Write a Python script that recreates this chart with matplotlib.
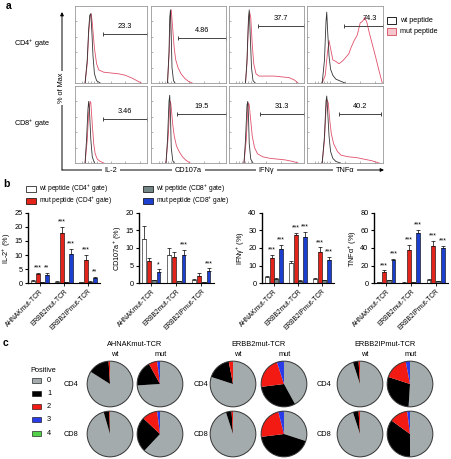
import numpy as np
import matplotlib
matplotlib.use('Agg')
import matplotlib.pyplot as plt
from matplotlib.patches import Rectangle, Circle

plt.rcParams['font.family'] = ['Liberation Sans', 'DejaVu Sans']
plt.rcParams['font.size'] = 5.2
plt.rcParams['mathtext.fontset'] = 'custom'
plt.rcParams['mathtext.rm'] = 'Liberation Sans'
plt.rcParams['mathtext.it'] = 'Liberation Sans:italic'

W, H = 452, 459

# ---- panel a: histogram traces (x = fluorescence, % of axis; y = % of max)
il2_cd4_wt = ([14, 17, 19, 20.5, 22, 23.5, 25, 27, 30, 35], [0, 30, 70, 88, 90, 65, 35, 12, 3, 0])
il2_cd4_mut = ([14, 17, 19, 21, 22.5, 24, 27, 30, 33, 40, 50, 60, 70, 80, 88, 92],
               [0, 25, 65, 86, 90, 78, 45, 25, 17, 14, 13, 12, 10, 6, 2, 0])
cd107_cd4_wt = ([22, 24, 25, 26, 27, 28, 30, 32], [0, 40, 85, 95, 60, 20, 3, 0])
cd107_cd4_mut = ([22, 24, 26, 27, 29, 31, 33, 36, 40, 45, 50, 55],
                 [0, 35, 88, 95, 70, 45, 30, 20, 12, 6, 2, 0])
ifng_cd4_wt = ([22, 24, 26, 27, 28, 30, 32, 35], [0, 30, 85, 95, 70, 20, 3, 0])
ifng_cd4_mut = ([22, 24, 26, 27.5, 29, 31, 33, 36, 40, 50, 60, 70, 80, 87, 92],
                [0, 25, 80, 92, 85, 50, 25, 12, 9, 9, 9, 8, 7, 4, 0])
tnfa_cd4_wt = ([20, 23, 25, 26, 27, 29, 31, 34, 38, 45, 50], [0, 30, 80, 92, 70, 35, 18, 10, 5, 2, 0])
tnfa_cd4_mut = ([20, 24, 27, 29, 31, 34, 38, 42, 46, 50, 55, 58, 62, 66, 70, 73, 76, 79, 82, 86, 90, 95, 99],
                [0, 10, 40, 55, 45, 30, 28, 25, 28, 32, 38, 46, 55, 62, 78, 80, 85, 78, 65, 50, 35, 15, 0])
il2_cd8_wt = ([14, 16, 18, 19, 20, 22, 24, 27], [0, 30, 70, 80, 70, 30, 8, 0])
il2_cd8_mut = ([14, 17, 19, 21, 22, 24, 26, 28, 31, 35, 40], [0, 30, 65, 80, 78, 50, 25, 12, 5, 2, 0])
cd107_cd8_wt = ([20, 22, 24, 25, 26, 27, 29, 31], [0, 30, 80, 88, 60, 20, 3, 0])
cd107_cd8_mut = ([20, 23, 25, 26, 27, 29, 31, 34, 38, 42, 46, 52],
                 [0, 35, 75, 80, 72, 50, 35, 22, 14, 8, 4, 0])
ifng_cd8_wt = ([20, 22, 24, 25, 26, 27, 29, 32], [0, 30, 75, 80, 60, 25, 5, 0])
ifng_cd8_mut = ([20, 23, 25, 26, 27, 29, 31, 34, 38, 45, 55, 65, 75, 85, 92],
                [0, 30, 70, 78, 75, 55, 35, 20, 12, 8, 6, 5, 4, 2, 0])
tnfa_cd8_wt = ([20, 23, 25, 26, 27, 29, 31, 34, 38, 44], [0, 35, 80, 87, 70, 35, 15, 6, 2, 0])
tnfa_cd8_mut = ([20, 23, 25, 26.5, 28, 30, 32, 35, 40, 45, 55, 65, 75, 85, 95],
                [0, 30, 70, 82, 78, 55, 38, 25, 15, 10, 8, 7, 5, 3, 0])

hist_wt = [[il2_cd4_wt, cd107_cd4_wt, ifng_cd4_wt, tnfa_cd4_wt],
           [il2_cd8_wt, cd107_cd8_wt, ifng_cd8_wt, tnfa_cd8_wt]]
hist_mut = [[il2_cd4_mut, cd107_cd4_mut, ifng_cd4_mut, tnfa_cd4_mut],
            [il2_cd8_mut, cd107_cd8_mut, ifng_cd8_mut, tnfa_cd8_mut]]
gate_pct = [['23.3', '4.86', '37.7', '74.3'], ['3.46', '19.5', '31.3', '40.2']]
gate_start = [[39, 36, 39, 49], [39, 35, 41, 42]]
gate_end = [[100, 100, 100, 100], [100, 100, 100, 97]]
gate_y = [[64, 58, 74, 74], [57, 64, 64, 64]]
markers = ['IL-2', 'CD107a', 'IFNγ', 'TNFα']
gates = ['CD4$^{+}$ gate', 'CD8$^{+}$ gate']

# ---- panel b: bar data (wt CD4, mut CD4, wt CD8, mut CD8) x TCR
tcr_labels = ['AHNAKmut-TCR', 'ERBB2mut-TCR', 'ERBB2IPmut-TCR']
series_labels = ['wt peptide (CD4$^{+}$ gate)', 'mut peptide (CD4$^{+}$ gate)',
                 'wt peptide (CD8$^{+}$ gate)', 'mut peptide (CD8$^{+}$ gate)']
il2_mean = [[0.8, 0.5, 0.4], [3.2, 17.8, 8.3], [0.3, 0.2, 0.5], [3.0, 10.2, 1.9]]
il2_err = [[0.2, 0.1, 0.1], [0.4, 2.2, 1.7], [0.1, 0.1, 0.2], [0.5, 2.0, 0.3]]
il2_sig = [['', '', ''], ['***', '***', '***'], ['', '', ''], ['**', '***', '**']]
cd107_mean = [[12.5, 8.0, 0.8], [6.2, 7.3, 2.0], [0.8, 0.5, 0.2], [3.2, 7.9, 3.4]]
cd107_err = [[3.8, 2.0, 0.3], [1.0, 1.6, 0.9], [0.2, 0.1, 0.1], [0.7, 1.6, 0.8]]
cd107_sig = [['', '', ''], ['', '', ''], ['', '', ''], ['*', '***', '***']]
ifng_mean = [[3.5, 11.5, 2.3], [14.5, 27.2, 18.0], [2.3, 1.2, 1.5], [19.3, 26.4, 13.2]]
ifng_err = [[0.5, 0.8, 0.4], [1.5, 1.5, 2.3], [0.5, 0.3, 0.4], [2.3, 2.8, 1.8]]
ifng_sig = [['', '', ''], ['***', '***', '***'], ['', '', ''], ['***', '***', '***']]
tnfa_mean = [[1.2, 0.5, 4.0], [13.0, 38.0, 42.5], [3.0, 1.2, 2.2], [26.0, 57.0, 39.5]]
tnfa_err = [[0.3, 0.2, 0.5], [1.5, 5.5, 5.5], [0.5, 0.3, 0.3], [2.0, 3.5, 3.0]]
tnfa_sig = [['', '', ''], ['***', '***', '***'], ['', '', ''], ['***', '***', '***']]
bar_ylabels = ['IL-2$^{+}$ (%)', 'CD107a$^{+}$ (%)', 'IFNγ$^{+}$ (%)', 'TNFα$^{+}$ (%)']
bar_ymax = [25, 20, 40, 80]
bar_ystep = [5, 5, 10, 20]

# ---- panel c: fraction of cells positive for 0..4 functions
pie_levels = ['0', '1', '2', '3', '4']
ahnak_pies = [[0.84, 0.15, 0.01, 0.0, 0.0], [0.74, 0.18, 0.06, 0.02, 0.0],
              [0.955, 0.04, 0.005, 0.0, 0.0], [0.62, 0.25, 0.11, 0.02, 0.0]]
erbb2_pies = [[0.80, 0.17, 0.03, 0.0, 0.0], [0.42, 0.31, 0.22, 0.05, 0.0],
              [0.95, 0.04, 0.01, 0.0, 0.0], [0.30, 0.43, 0.23, 0.04, 0.0]]
erbb2ip_pies = [[0.95, 0.04, 0.01, 0.0, 0.0], [0.51, 0.29, 0.17, 0.03, 0.0],
                [0.95, 0.04, 0.01, 0.0, 0.0], [0.50, 0.35, 0.13, 0.02, 0.0]]
pie_titles = ['AHNAKmut-TCR', 'ERBB2mut-TCR', 'ERBB2IPmut-TCR']

bar_colors = ['white', '#e3241b', '#748585', '#1d3fcf']
pie_colors = ['#a3abad', '#000000', '#f21a12', '#2a3ce8', '#55d04a']


def box(x0, y0, x1, y1):
    return [x0 / W, 1 - y1 / H, (x1 - x0) / W, (y1 - y0) / H]


fig = plt.figure(figsize=(W / 100, H / 100), dpi=100)
ov = fig.add_axes([0, 0, 1, 1])
ov.set_xlim(0, W)
ov.set_ylim(H, 0)
ov.axis('off')

# panel letters
for lab, (x, y) in zip('abc', [(9, 6), (6, 184), (6, 343)]):
    ov.text(x, y, lab, fontsize=7.5, fontweight='bold', ha='center', va='center')

# ---------------- panel a
cols = [(75, 147), (151, 226), (229, 304), (307, 383)]
rows = [(6, 83), (86, 163)]
for r in range(2):
    for c in range(4):
        ax = fig.add_axes(box(cols[c][0], rows[r][0], cols[c][1], rows[r][1]))
        wx, wy = hist_wt[r][c]
        mx, my = hist_mut[r][c]
        ax.plot(mx, my, color='#e0506a', lw=0.6)
        ax.plot(wx, wy, color='#333333', lw=0.6)
        ax.set_xlim(0, 100)
        ax.set_ylim(0, 100)
        for s in ax.spines.values():
            s.set_color('#999999')
            s.set_linewidth(0.6)
        ax.set_xticks([10, 14, 18, 22, 26, 30, 50, 70, 90])
        ax.set_yticks([20, 40, 60, 80])
        ax.tick_params(direction='in', length=1.5, width=0.4, colors='#777777',
                       labelbottom=False, labelleft=False)
        g0, g1, gy = gate_start[r][c], gate_end[r][c], gate_y[r][c]
        ax.plot([g0, g1], [gy, gy], color='#444444', lw=0.7, marker='|', ms=3, mew=0.7)
        ax.text((g0 + g1) / 2 + (8 if (r, c) == (0, 3) else 0), gy + 5, gate_pct[r][c],
                ha='center', va='bottom', fontsize=5.3)
    ov.text(32, (rows[r][0] + rows[r][1]) / 2 - 1, gates[r], ha='center', va='center', fontsize=5.3)

ov.annotate('', xy=(62, 12), xytext=(62, 170),
            arrowprops=dict(arrowstyle='-|>', lw=0.7, color='k', mutation_scale=5, shrinkA=0, shrinkB=0))
ov.annotate('', xy=(384, 170), xytext=(62, 170),
            arrowprops=dict(arrowstyle='-|>', lw=0.7, color='k', mutation_scale=5, shrinkA=0, shrinkB=0))
ov.text(62, 88, '% of Max', rotation=90, ha='center', va='center', fontsize=5.3,
        bbox=dict(fc='white', ec='none', pad=1))
for c, m in enumerate(markers):
    ov.text((cols[c][0] + cols[c][1]) / 2, 170, m, ha='center', va='center', fontsize=5.3,
            bbox=dict(fc='white', ec='none', pad=2))

ov.add_patch(Rectangle((387, 17), 9, 7, fc='white', ec='black', lw=0.6))
ov.text(400, 20.5, 'wt peptide', va='center', fontsize=5.2)
ov.add_patch(Rectangle((387, 28), 9, 7, fc='#f6c6cc', ec='#d84a5c', lw=0.6))
ov.text(400, 31.5, 'mut peptide', va='center', fontsize=5.2)

# ---------------- panel b
for i, lab in enumerate(series_labels):
    x0 = 26 if i < 2 else 143
    y0 = 186 if i % 2 == 0 else 198
    ov.add_patch(Rectangle((x0, y0), 10, 5.5, fc=bar_colors[i], ec='black', lw=0.5))
    ov.text(x0 + 13, y0 + 3, lab, va='center', fontsize=4.8)

b_boxes = [(28, 100), (139, 214), (262, 334), (374, 448)]
b_means = [il2_mean, cd107_mean, ifng_mean, tnfa_mean]
b_errs = [il2_err, cd107_err, ifng_err, tnfa_err]
b_sigs = [il2_sig, cd107_sig, ifng_sig, tnfa_sig]
offsets = [-0.285, -0.095, 0.095, 0.285]
groups = np.arange(len(tcr_labels))
for p in range(4):
    ax = fig.add_axes(box(b_boxes[p][0], 213, b_boxes[p][1], 283))
    for s in range(4):
        xs = groups + offsets[s]
        ax.bar(xs, b_means[p][s], width=0.15, color=bar_colors[s], edgecolor='black', lw=0.4, zorder=2)
        ax.errorbar(xs, b_means[p][s], yerr=[np.zeros(3), b_errs[p][s]], fmt='none',
                    ecolor='black', elinewidth=0.5, capsize=1.2, capthick=0.5, zorder=1)
        for g in range(3):
            if b_sigs[p][s][g]:
                ax.text(xs[g], b_means[p][s][g] + b_errs[p][s][g] + bar_ymax[p] * 0.02,
                        b_sigs[p][s][g], ha='center', va='bottom', fontsize=5)
    ax.set_xlim(-0.5, 2.5)
    ax.set_ylim(0, bar_ymax[p])
    ax.set_yticks(np.arange(0, bar_ymax[p] + 1, bar_ystep[p]))
    ax.set_xticks(groups)
    ax.set_xticklabels(tcr_labels, rotation=45, ha='right', rotation_mode='anchor', fontsize=4.8)
    ax.spines['top'].set_visible(False)
    ax.spines['right'].set_visible(False)
    ax.spines['left'].set_linewidth(1.0)
    ax.spines['bottom'].set_linewidth(0.8)
    ax.tick_params(axis='y', length=2.5, width=0.8, labelsize=5.3, pad=1.5)
    ax.tick_params(axis='x', length=2, width=0.6, pad=1.5)
    ax.set_ylabel(bar_ylabels[p], fontsize=5.3, labelpad=1)

# ---------------- panel c
ov.text(30, 371, 'Positive', va='center', fontsize=5.3)
for i, lev in enumerate(pie_levels):
    y = 380 + i * 13.3
    ov.add_patch(Rectangle((32, y - 2.5), 9, 5, fc=pie_colors[i], ec='black', lw=0.4))
    ov.text(47, y, lev, va='center', fontsize=5.3)

pie_sets = [ahnak_pies, erbb2_pies, erbb2ip_pies]
pie_cx = [(110, 160), (233, 284), (360, 410)]
row_lab_x = [71, 201, 324]
row_cy = [384, 434]
for t in range(3):
    ov.text((pie_cx[t][0] + pie_cx[t][1]) / 2, 345, pie_titles[t], ha='center', va='center', fontsize=5.3)
    ov.text(pie_cx[t][0] + 5, 355, 'wt', ha='center', va='center', fontsize=5.3)
    ov.text(pie_cx[t][1] + 1, 355, 'mut', ha='center', va='center', fontsize=5.3)
    for r in range(2):
        ov.text(row_lab_x[t], row_cy[r], ['CD4', 'CD8'][r], ha='center', va='center', fontsize=5.3)
        for k in range(2):
            cx, cy = pie_cx[t][k], row_cy[r]
            ax = fig.add_axes(box(cx - 24, cy - 24, cx + 24, cy + 24))
            fr = pie_sets[t][r * 2 + k]
            ax.pie(fr, colors=pie_colors, startangle=90, counterclock=False,
                   wedgeprops=dict(edgecolor='none', linewidth=0))
            ax.add_patch(Circle((0, 0), 1, fill=False, ec='#333333', lw=0.7))
            ax.set_xlim(-1.05, 1.05)
            ax.set_ylim(-1.05, 1.05)
            ax.set_aspect('equal')
            ax.axis('off')

fig.savefig('out.png', dpi=100)
